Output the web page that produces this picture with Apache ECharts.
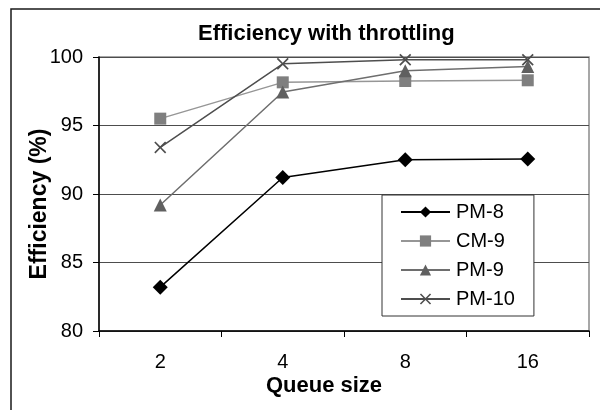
<!DOCTYPE html>
<html>
<head>
<meta charset="utf-8">
<script src="https://cdn.jsdelivr.net/npm/echarts@6/dist/echarts.min.js"></script>
<style>
  html, body { margin: 0; padding: 0; background: #fff; }
  #chart { width: 600px; height: 410px; }
</style>
</head>
<body>
<div id="chart"></div>
<script>
    var queueSizes = ['2', '4', '8', '16'];
    var pm8 = [83.2, 91.2, 92.5, 92.55];
    var cm9 = [95.5, 98.15, 98.25, 98.3];
    var pm9 = [89.2, 97.45, 99.0, 99.3];
    var pm10 = [93.4, 99.5, 99.8, 99.8];
    var yTicks = [80, 85, 90, 95, 100];

    var font = 'Liberation Sans, Arial, sans-serif';
    var xMark = 'path://M0,1L1,0L5,4L9,0L10,1L6,5L10,9L9,10L5,6L1,10L0,9L4,5Z';

    function makeSeries(name, data, symbol, size, lineColor, markColor, width) {
        return {
            name: name,
            type: 'line',
            data: data,
            symbol: symbol,
            symbolSize: size,
            showAllSymbol: true,
            animation: false,
            lineStyle: { color: lineColor, width: width },
            itemStyle: { color: markColor, borderWidth: 0 }
        };
    }

    var myChart = echarts.init(document.getElementById('chart'));

    myChart.setOption({
        backgroundColor: '#fff',
        animation: false,
        textStyle: { fontFamily: font },
        graphic: [{
            type: 'rect',
            shape: { x: 11, y: 9, width: 620, height: 430 },
            style: { fill: 'none', stroke: '#1a1a1a', lineWidth: 1.5 }
        }],
        title: {
            text: 'Efficiency with throttling',
            left: 198,
            top: 23,
            padding: 0,
            textStyle: { fontFamily: font, fontSize: 22, fontWeight: 'bold', color: '#000' }
        },
        grid: {
            left: 99, right: 11, top: 57, bottom: 79,
            show: true, borderColor: '#8a8a8a', borderWidth: 1.5
        },
        legend: {
            orient: 'vertical',
            left: 382,
            top: 195,
            padding: [7, 19, 7, 18],
            itemWidth: 49,
            itemHeight: 14,
            itemGap: 9,
            borderColor: '#333',
            borderWidth: 1,
            backgroundColor: '#fff',
            textStyle: { fontFamily: font, fontSize: 20, color: '#000', lineHeight: 20, padding: [0, 0, 0, 1] },
            data: ['PM-8', 'CM-9', 'PM-9', 'PM-10']
        },
        xAxis: {
            type: 'category',
            data: queueSizes,
            boundaryGap: true,
            name: 'Queue size',
            nameLocation: 'middle',
            nameGap: 44,
            nameMoveOverlap: false,
            nameTextStyle: { fontFamily: font, fontSize: 22, fontWeight: 'bold', color: '#000', padding: [0, 40, 0, 0] },
            axisLine: { lineStyle: { color: '#000', width: 1.5 } },
            axisTick: { show: true, length: 6, inside: false, lineStyle: { color: '#000' } },
            axisLabel: { fontFamily: font, fontSize: 20, color: '#000', margin: 21 },
            splitLine: { show: false }
        },
        yAxis: {
            type: 'value',
            min: 80,
            max: 100,
            interval: 5,
            name: 'Efficiency (%)',
            nameLocation: 'middle',
            nameGap: 48,
            nameMoveOverlap: false,
            nameTextStyle: { fontFamily: font, fontSize: 23, fontWeight: 'bold', color: '#000', padding: [0, 20, 0, 0] },
            axisLine: { show: true, lineStyle: { color: '#000', width: 1.5 } },
            axisTick: { show: true, length: 6, lineStyle: { color: '#000' } },
            axisLabel: {
                fontFamily: font, fontSize: 20, color: '#000', margin: 16,
                formatter: function (v) { return yTicks.indexOf(v) >= 0 ? String(v) : ''; }
            },
            splitLine: { show: true, lineStyle: { color: '#4d4d4d', width: 1 } }
        },
        series: [
            makeSeries('PM-8', pm8, 'diamond', 15, '#000', '#000', 1.5),
            makeSeries('CM-9', cm9, 'rect', 12, '#969696', '#7f7f7f', 1.5),
            makeSeries('PM-9', pm9, 'triangle', 13, '#6e6e6e', '#606060', 1.5),
            makeSeries('PM-10', pm10, xMark, 12, '#4e4e4e', '#4e4e4e', 1.5)
        ]
    });
</script>
</body>
</html>
